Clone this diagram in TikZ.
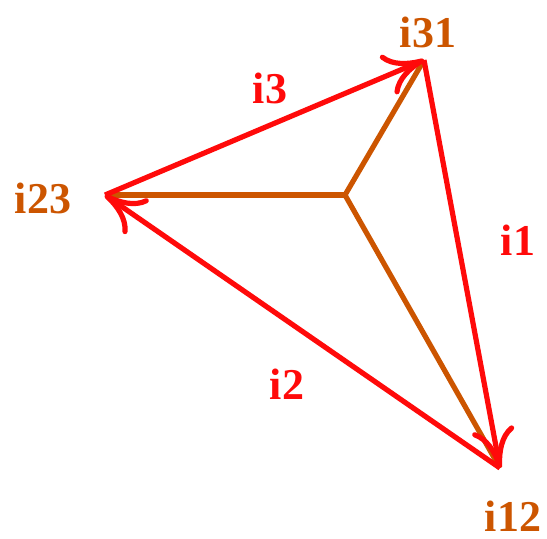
\documentclass[tikz,border=0pt]{standalone}
\usepackage{fontspec}
\setmainfont{Liberation Serif}
\usepackage{tikz}
\usetikzlibrary{arrows.meta}
\definecolor{ired}{RGB}{255,10,10}
\definecolor{iorange}{RGB}{204,85,0}

\begin{document}
\begin{tikzpicture}[
  x=0.5pt, y=-0.5pt,
  vlabel/.style={text=iorange, font=\fontsize{22}{26}\selectfont\bfseries},
  clabel/.style={text=ired, font=\fontsize{22}{26}\selectfont\bfseries},
  spoke/.style={draw=iorange, line width=2.6pt},
  arr/.style={draw=ired, line width=2.6pt,
              -{Computer Modern Rightarrow[length=7mm, width=7.5mm, line width=2.6pt]}}
]
\useasboundingbox (0,0) rectangle (547,538);

\coordinate (p31) at (424,60);
\coordinate (p23) at (105,195);
\coordinate (p12) at (500,468);
\coordinate (mid) at (345,195);

\node[vlabel] (l31) at (428,32) {i31};
\node[vlabel] (l23) at (43,198) {i23};
\node[vlabel] (l12) at (513,516) {i12};
\node[clabel] (l3) at (270,88) {i3};
\node[clabel] (l1) at (518,240) {i1};
\node[clabel] (l2) at (287,384) {i2};

\draw[spoke] (mid) -- (p31);
\draw[spoke] (mid) -- (p23);
\draw[spoke] (mid) -- (p12);

\draw[arr] (p23) -- (p31);
\draw[arr] (p31) -- (p12);
\draw[arr] (p12) -- (p23);
\end{tikzpicture}
\end{document}
